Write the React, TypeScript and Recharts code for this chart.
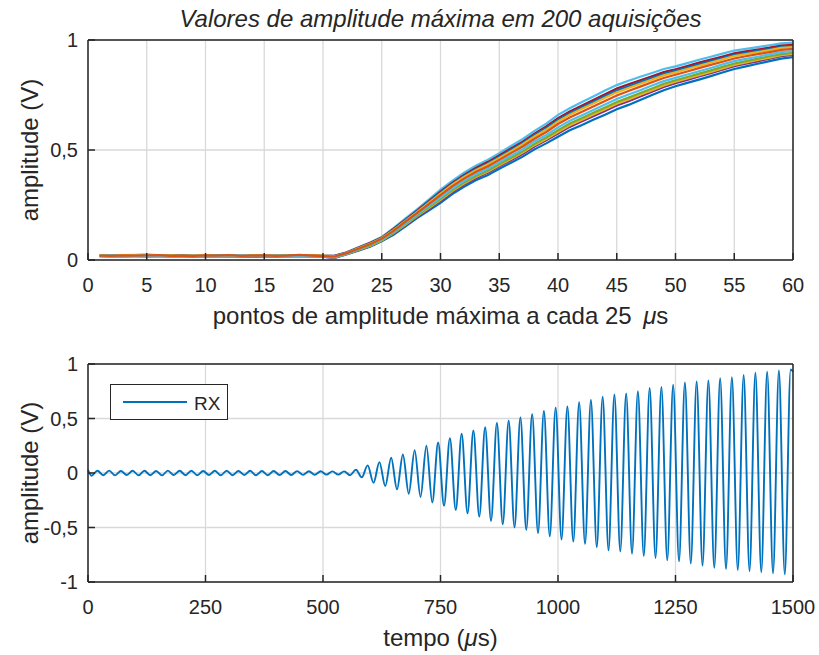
import React from 'react';
import { LineChart, Line, XAxis, YAxis, CartesianGrid, Legend } from 'recharts';

const FONT = '"Liberation Sans", Arial, Helvetica, sans-serif';
const TEXT = '#262626';
const AXIS = '#262626';
const GRID = '#d9d9d9';

// ---------- top chart: maximum amplitude points (60 per acquisition) ----------
const pointIndex = [
  1, 2, 3, 4, 5, 6, 7, 8, 9, 10, 11, 12, 13, 14, 15, 16, 17, 18, 19, 20,
  21, 22, 23, 24, 25, 26, 27, 28, 29, 30, 31, 32, 33, 34, 35, 36, 37, 38, 39, 40,
  41, 42, 43, 44, 45, 46, 47, 48, 49, 50, 51, 52, 53, 54, 55, 56, 57, 58, 59, 60,
];
const pointTicks = [0, 5, 10, 15, 20, 25, 30, 35, 40, 45, 50, 55, 60];
const ampTicks = [0, 0.5, 1];

const acqA = [
  .020, .021, .019, .022, .024, .021, .020, .019, .021, .020, .018, .019, .020, .021, .019, .020, .022, .020, .019, .018,
  .020, .035, .058, .080, .105, .145, .188, .230, .275, .320, .360, .397, .428, .455, .485, .518, .550, .587, .620, .660,
  .690, .717, .743, .770, .795, .815, .833, .850, .868, .880, .895, .910, .924, .938, .952, .960, .968, .976, .985, .988,
];
const acqB = [
  .017, .016, .018, .017, .016, .018, .017, .016, .015, .017, .016, .015, .016, .017, .016, .015, .016, .017, .016, .015,
  .010, .025, .042, .060, .085, .115, .152, .190, .225, .260, .300, .333, .362, .385, .415, .442, .470, .503, .530, .560,
  .590, .613, .637, .660, .685, .705, .727, .750, .772, .790, .805, .820, .836, .852, .868, .880, .892, .904, .915, .922,
];
const acqC = [
  .022, .021, .020, .021, .022, .020, .021, .022, .020, .019, .021, .020, .019, .020, .021, .020, .019, .021, .022, .019,
  .019, .034, .056, .077, .102, .141, .183, .224, .268, .311, .351, .387, .418, .445, .475, .507, .538, .574, .607, .645,
  .675, .701, .727, .753, .779, .799, .817, .835, .854, .867, .882, .897, .911, .925, .939, .948, .957, .965, .975, .978,
];
const acqD = [
  .018, .017, .016, .018, .019, .017, .016, .017, .018, .016, .017, .018, .016, .015, .016, .017, .018, .017, .016, .014,
  .011, .027, .044, .063, .088, .120, .157, .196, .233, .269, .309, .343, .372, .396, .426, .453, .482, .516, .544, .575,
  .605, .629, .653, .677, .702, .722, .743, .765, .786, .804, .819, .834, .849, .865, .881, .892, .903, .915, .926, .932,
];
const acqE = [
  .021, .020, .022, .023, .025, .022, .021, .020, .022, .021, .020, .019, .021, .020, .022, .021, .020, .019, .021, .020,
  .017, .032, .053, .074, .099, .136, .177, .218, .260, .302, .342, .378, .408, .434, .464, .495, .526, .562, .593, .630,
  .660, .686, .711, .737, .762, .782, .801, .820, .839, .853, .868, .883, .898, .912, .927, .936, .945, .954, .964, .968,
];
const acqF = [
  .019, .018, .019, .020, .018, .017, .019, .018, .020, .019, .018, .017, .018, .019, .018, .017, .019, .018, .017, .016,
  .013, .028, .047, .066, .091, .124, .163, .202, .240, .278, .318, .352, .382, .406, .436, .465, .494, .528, .557, .590,
  .620, .644, .669, .693, .718, .738, .759, .780, .801, .817, .832, .847, .862, .878, .893, .904, .915, .926, .936, .942,
];
const acqG = [
  .020, .019, .021, .020, .021, .022, .019, .020, .019, .021, .020, .022, .019, .020, .021, .019, .020, .023, .020, .018,
  .016, .031, .051, .072, .097, .132, .173, .213, .254, .295, .335, .370, .400, .425, .455, .486, .516, .551, .582, .618,
  .648, .673, .698, .723, .748, .768, .788, .808, .827, .842, .857, .872, .887, .901, .916, .926, .936, .945, .955, .960,
];
const acqH = [
  .019, .020, .018, .019, .020, .019, .018, .019, .020, .018, .019, .020, .021, .018, .019, .020, .018, .019, .018, .017,
  .014, .029, .049, .069, .094, .128, .167, .207, .246, .285, .325, .360, .390, .415, .445, .474, .504, .539, .568, .603,
  .633, .657, .682, .707, .732, .752, .772, .793, .813, .828, .843, .858, .873, .889, .904, .914, .924, .935, .945, .950,
];
const acqI = [
  .020, .022, .021, .020, .019, .021, .022, .021, .019, .020, .022, .021, .020, .019, .020, .022, .021, .020, .019, .019,
  .018, .033, .054, .075, .100, .138, .180, .221, .264, .306, .346, .382, .413, .439, .469, .501, .532, .568, .600, .637,
  .667, .693, .719, .745, .770, .790, .809, .827, .846, .860, .875, .890, .904, .918, .933, .942, .951, .959, .969, .973,
];
const acqJ = [
  .018, .019, .017, .018, .017, .019, .018, .017, .019, .018, .017, .016, .017, .018, .017, .018, .017, .016, .018, .016,
  .012, .027, .046, .064, .089, .122, .160, .199, .236, .273, .313, .347, .377, .401, .431, .459, .488, .522, .550, .582,
  .612, .636, .661, .685, .710, .730, .751, .772, .793, .810, .825, .840, .855, .871, .887, .898, .909, .920, .931, .937,
];

const acqSeries = [
  { key: 'b', values: acqB, color: '#0072BD' },
  { key: 'a', values: acqA, color: '#4DBEEE' },
  { key: 'd', values: acqD, color: '#7E2F8E' },
  { key: 'c', values: acqC, color: '#A2142F' },
  { key: 'j', values: acqJ, color: '#EDB120' },
  { key: 'i', values: acqI, color: '#0072BD' },
  { key: 'f', values: acqF, color: '#77AC30' },
  { key: 'e', values: acqE, color: '#EDB120' },
  { key: 'h', values: acqH, color: '#4DBEEE' },
  { key: 'g', values: acqG, color: '#D95319' },
];

const acqRows = pointIndex.map((x, i) => {
  const row: Record<string, number> = { x };
  acqSeries.forEach((s) => { row[s.key] = s.values[i]; });
  return row;
});

// ---------- bottom chart: RX signal (one peak / one trough per 25 us cycle) ----------
const timeTicks = [0, 250, 500, 750, 1000, 1250, 1500];
const rxTicks = [-1, -0.5, 0, 0.5, 1];
const RX_PERIOD = 25;
const RX_TROUGH_PHASE = 7.5;
const RX_PEAK_PHASE = 20;
const rxStart = 0.03;
const rxEnd = 0.93;
const rxTroughs = [
  -0.025, -0.02, -0.022, -0.018, -0.021, -0.02, -0.022, -0.019, -0.02, -0.021,
  -0.019, -0.021, -0.02, -0.018, -0.021, -0.02, -0.019, -0.018, -0.017, -0.016,
  -0.015, -0.015, -0.02, -0.04, -0.09, -0.12, -0.15, -0.19, -0.22, -0.27,
  -0.30, -0.34, -0.37, -0.40, -0.44, -0.47, -0.50, -0.52, -0.55, -0.58,
  -0.61, -0.63, -0.65, -0.68, -0.71, -0.72, -0.74, -0.76, -0.78, -0.80,
  -0.81, -0.83, -0.85, -0.87, -0.88, -0.89, -0.90, -0.91, -0.92, -0.93,
];
const rxPeaks = [
  0.02, 0.022, 0.018, 0.021, 0.02, 0.019, 0.022, 0.02, 0.021, 0.019,
  0.02, 0.021, 0.019, 0.02, 0.018, 0.019, 0.018, 0.017, 0.016, 0.016,
  0.015, 0.015, 0.03, 0.07, 0.10, 0.14, 0.17, 0.21, 0.25, 0.28,
  0.32, 0.36, 0.39, 0.42, 0.46, 0.48, 0.51, 0.54, 0.57, 0.60,
  0.61, 0.65, 0.67, 0.70, 0.72, 0.73, 0.75, 0.78, 0.79, 0.81,
  0.83, 0.84, 0.85, 0.87, 0.88, 0.90, 0.92, 0.93, 0.94, 0.95,
];

const rxRows: { t: number; v: number }[] = [{ t: 0, v: rxStart }];
rxPeaks.forEach((p, k) => {
  rxRows.push({ t: k * RX_PERIOD + RX_TROUGH_PHASE, v: rxTroughs[k] });
  rxRows.push({ t: k * RX_PERIOD + RX_PEAK_PHASE, v: p });
});
rxRows.push({ t: 1500, v: rxEnd });

const fmt = (v: number) => String(v).replace('.', ',');
const tickStyle = { fill: TEXT, fontSize: 20, fontFamily: FONT };
const axisLine = { stroke: AXIS, strokeWidth: 1.5 };
const tickLine = { stroke: AXIS, strokeWidth: 1.5 };

const RxLegend = (props: any) => {
  const name = props && props.payload && props.payload[0] ? props.payload[0].value : 'RX';
  return (
    <div style={{ width: 118, height: 36, boxSizing: 'border-box', border: `1.5px solid ${AXIS}`, background: '#fff', position: 'relative' }}>
      <svg width={115} height={33} style={{ position: 'absolute', left: 0, top: 0 }}>
        <line x1={12} x2={76} y1={17} y2={17} stroke="#0072BD" strokeWidth={1.8} />
        <text x={83} y={24.5} fontSize={19} fill={TEXT} fontFamily={FONT}>{name}</text>
      </svg>
    </div>
  );
};

export default function App() {
  return (
    <div style={{ position: 'absolute', left: 0, top: 0, width: 819, height: 655, background: '#fff', overflow: 'hidden' }}>
      <div style={{ position: 'absolute', left: 0, top: 0 }}>
        <LineChart width={819} height={330} data={acqRows} margin={{ top: 39, right: 25, bottom: 0, left: 0 }}>
          <CartesianGrid stroke={GRID} strokeWidth={1.3} />
          <XAxis dataKey="x" type="number" domain={[0, 60]} ticks={pointTicks} height={70}
            tickSize={-7} tickMargin={25} tick={tickStyle} axisLine={axisLine} tickLine={tickLine} />
          <XAxis xAxisId="top" orientation="top" dataKey="x" type="number" domain={[0, 60]} ticks={pointTicks}
            allowDataOverflow height={1} tick={false} tickSize={-7} axisLine={axisLine} tickLine={tickLine} />
          <YAxis type="number" domain={[0, 1]} ticks={ampTicks} width={88} tickSize={-7} tickMargin={17}
            tickFormatter={fmt} tick={tickStyle} axisLine={axisLine} tickLine={tickLine} />
          <YAxis yAxisId="right" orientation="right" type="number" domain={[0, 1]} ticks={ampTicks}
            allowDataOverflow width={1} tick={false} tickSize={-7} axisLine={axisLine} tickLine={tickLine} />
          {acqSeries.map((s) => (
            <Line key={s.key} dataKey={s.key} type="linear" stroke={s.color} strokeWidth={2.2}
              dot={false} isAnimationActive={false} />
          ))}
        </LineChart>
      </div>

      <div style={{ position: 'absolute', left: 0, top: 340 }}>
        <LineChart width={819} height={315} data={rxRows} margin={{ top: 23, right: 25, bottom: 0, left: 0 }}>
          <CartesianGrid stroke={GRID} strokeWidth={1.3} />
          <XAxis dataKey="t" type="number" domain={[0, 1500]} ticks={timeTicks} height={73}
            tickSize={-7} tickMargin={25} tick={tickStyle} axisLine={axisLine} tickLine={tickLine} />
          <XAxis xAxisId="top" orientation="top" dataKey="t" type="number" domain={[0, 1500]} ticks={timeTicks}
            allowDataOverflow height={1} tick={false} tickSize={-7} axisLine={axisLine} tickLine={tickLine} />
          <YAxis type="number" domain={[-1, 1]} ticks={rxTicks} width={88} tickSize={-7} tickMargin={17}
            tickFormatter={fmt} tick={tickStyle} axisLine={axisLine} tickLine={tickLine} />
          <YAxis yAxisId="right" orientation="right" type="number" domain={[-1, 1]} ticks={rxTicks}
            allowDataOverflow width={1} tick={false} tickSize={-7} axisLine={axisLine} tickLine={tickLine} />
          <Legend layout="horizontal" verticalAlign="middle" align="center" content={RxLegend}
            wrapperStyle={{ left: 110, top: 44, width: 118, height: 36 }} />
          <Line dataKey="v" name="RX" type="monotone" stroke="#0072BD" strokeWidth={1.9}
            dot={false} isAnimationActive={false} />
        </LineChart>
      </div>

      <svg width={819} height={655} style={{ position: 'absolute', left: 0, top: 0, pointerEvents: 'none' }}
        fontFamily={FONT} fill={TEXT}>
        <text x={440.5} y={27} textAnchor="middle" fontSize={24} fontStyle="italic">
          Valores de amplitude máxima em 200 aquisições
        </text>
        <text x={440.5} y={324} textAnchor="middle" fontSize={24}>
          {'pontos de amplitude máxima a cada 25 \u2009'}<tspan fontStyle="italic">μ</tspan>{'s'}
        </text>
        <text transform="translate(38,150) rotate(-90)" textAnchor="middle" fontSize={24}>amplitude (V)</text>
        <text x={440.5} y={646} textAnchor="middle" fontSize={24}>
          {'tempo ('}<tspan fontStyle="italic">μ</tspan>{'s)'}
        </text>
        <text transform="translate(38,473) rotate(-90)" textAnchor="middle" fontSize={24}>amplitude (V)</text>
      </svg>
    </div>
  );
}
